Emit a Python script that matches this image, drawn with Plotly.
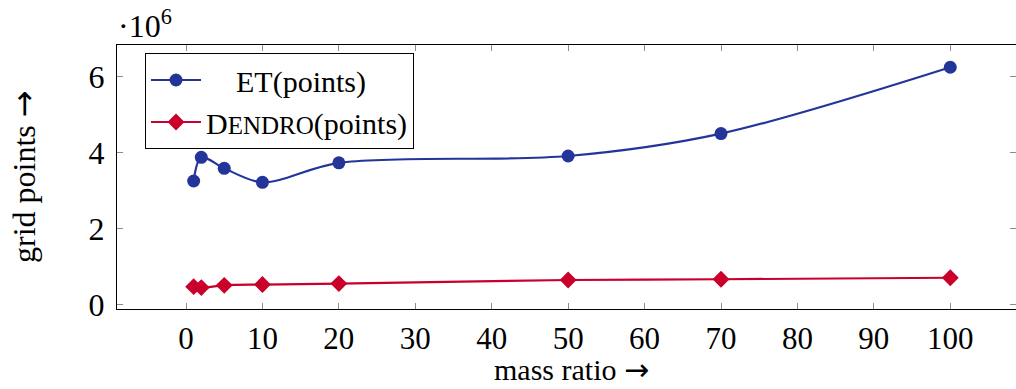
import plotly.graph_objects as go

mass_ratio = [1, 2, 5, 10, 20, 50, 70, 100]
et_points = [3.25e6, 3.875e6, 3.585e6, 3.216e6, 3.73e6, 3.91e6, 4.50e6, 6.25e6]
dendro_points = [0.465e6, 0.44e6, 0.50e6, 0.52e6, 0.545e6, 0.64e6, 0.66e6, 0.70e6]

x_ticks = [0, 10, 20, 30, 40, 50, 60, 70, 80, 90, 100]
y_ticks = [0, 2e6, 4e6, 6e6]
y_tick_labels = ["0", "2", "4", "6"]

BLUE = "#24359A"
RED = "#C8002A"
FONT = "Liberation Serif"
FS = 32
ARROW = "<span style='font-family:DejaVu Sans'>→</span>"
W, H = 1016, 389
L, R, T, B = 117, 0, 45, 80

fig = go.Figure()
fig.add_trace(go.Scatter(
    x=mass_ratio, y=et_points, mode="lines+markers",
    name="&nbsp;&nbsp;&nbsp;&nbsp;ET(points)",
    line=dict(color=BLUE, width=2.2, shape="spline", smoothing=0.9),
    marker=dict(symbol="circle", size=13, color=BLUE),
))
fig.add_trace(go.Scatter(
    x=mass_ratio, y=dendro_points, mode="lines+markers",
    name="D<span style='font-size:25px'>ENDRO</span>(points)",
    line=dict(color=RED, width=2.2, shape="spline", smoothing=0.9),
    marker=dict(symbol="diamond", size=13, color=RED),
))

axis_common = dict(
    showline=True, linecolor="black", linewidth=1.2, mirror="allticks",
    ticks="inside", ticklen=6, tickcolor="#8c8c8c", tickwidth=1,
    showgrid=False, zeroline=False,
)

fig.update_xaxes(range=[-9.03, 108.6], tickvals=x_ticks, ticklabelstandoff=2,
                 tickfont=dict(family=FONT, size=31, color="black"), **axis_common)
fig.update_yaxes(range=[-0.124e6, 6.836e6], tickvals=y_ticks, ticktext=y_tick_labels,
                 ticklabelstandoff=5, tickfont=dict(family=FONT, size=FS, color="black"),
                 **axis_common)

pw = W - L - R
ph = H - T - B

def px_x(p):
    return (p - L) / pw

def px_y(p):
    return (H - B - p) / ph

fig.update_layout(
    width=W, height=H,
    margin=dict(l=L, r=R, t=T, b=B, pad=0),
    plot_bgcolor="white", paper_bgcolor="white",
    font=dict(family=FONT, size=FS, color="black"),
    showlegend=True,
    legend=dict(
        x=px_x(145), y=px_y(53), xanchor="left", yanchor="top",
        bordercolor="black", borderwidth=1, bgcolor="white",
        font=dict(family=FONT, size=30, color="black"),
        itemwidth=50, tracegroupgap=0,
    ),
    annotations=[
        dict(text="·10<sup>6</sup>", xref="paper", yref="paper", x=px_x(116), y=px_y(24),
             xanchor="left", yanchor="middle", showarrow=False,
             font=dict(family=FONT, size=FS, color="black")),
        dict(text="mass ratio " + ARROW, xref="paper", yref="paper", x=px_x(571), y=px_y(389),
             xanchor="center", yanchor="bottom", showarrow=False,
             font=dict(family=FONT, size=30, color="black")),
        dict(text="grid points " + ARROW, xref="paper", yref="paper", x=px_x(24), y=px_y(177),
             xanchor="center", yanchor="middle", textangle=-90, showarrow=False,
             font=dict(family=FONT, size=FS, color="black")),
    ],
)

fig.write_html("out.html")
